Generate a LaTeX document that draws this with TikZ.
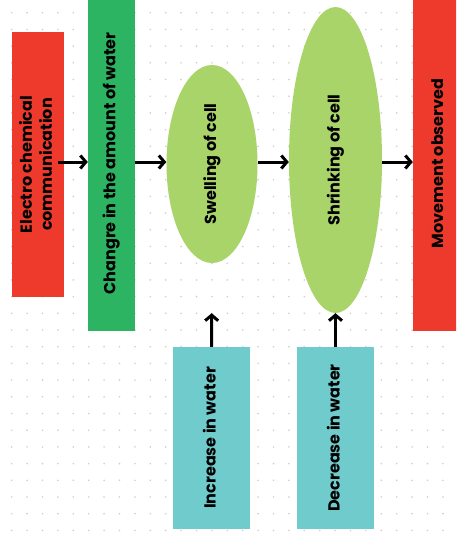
\documentclass[tikz,border=0pt]{standalone}
\usepackage{fontspec}
\setmainfont{Poppins}
\usetikzlibrary{arrows.meta,shapes.geometric}
\definecolor{signalred}{HTML}{EE3A2C}
\definecolor{watergreen}{HTML}{2DB463}
\definecolor{cellgreen}{HTML}{A9D46A}
\definecolor{inputcyan}{HTML}{70CCCC}
\definecolor{griddot}{HTML}{CFCFCF}
\tikzset{
  stage/.style={rectangle, inner sep=0pt, font=\bfseries\fontsize{16}{20}\selectfont},
  redstage/.style={stage, fill=signalred},
  waterstage/.style={stage, fill=watergreen},
  inputstage/.style={stage, fill=inputcyan},
  cell/.style={ellipse, inner sep=0pt, fill=cellgreen, font=\bfseries\fontsize{16}{20}\selectfont},
  flow/.style={-{Straight Barb[length=5.5pt,width=13pt]}, line width=3pt, black},
}
\newcommand{\uptext}[1]{\rotatebox{90}{\begin{tabular}{@{}c@{}}#1\end{tabular}}}

\begin{document}
\begin{tikzpicture}[x=1pt,y=-1pt]
  \useasboundingbox (0,0) rectangle (456,539);
  \clip (0,0) rectangle (456,539);
  \fill[white] (0,0) rectangle (456,539);
  \foreach \i in {0,...,28}
    \foreach \j in {0,...,31}
      \fill[griddot] (11.7+15.4*\i,12.7+16.7*\j) circle (0.9pt);

  \node[redstage, minimum width=52pt, minimum height=265pt] (elec) at (38,164.5)
    {\uptext{Electro chemical\\[0pt]communication}};
  \node[waterstage, minimum width=47pt, minimum height=335pt] (water) at (111.5,163.5)
    {\uptext{Changre in the amount of water}};
  \node[cell, minimum width=91pt, minimum height=198pt] (swell) at (212,164)
    {\uptext{Swelling of cell}};
  \node[cell, minimum width=93pt, minimum height=306pt] (shrink) at (335.5,160)
    {\uptext{Shrinking of cell}};
  \node[redstage, minimum width=52pt, minimum height=335pt] (move) at (439,163.5)
    {\uptext{Movement observed}};
  \node[inputstage, minimum width=77pt, minimum height=182pt] (inc) at (211.5,438)
    {\uptext{Increase in water}};
  \node[inputstage, minimum width=77pt, minimum height=182pt] (dec) at (335.5,438)
    {\uptext{Decrease in water}};

  \coordinate (mid) at (0,162);
  \draw[flow, shorten <=-6pt] (elec.east |- mid) -- (water.west |- mid);
  \draw[flow] (water.east |- mid) -- (swell.west |- mid);
  \draw[flow] (swell.east |- mid) -- (shrink.west |- mid);
  \draw[flow] (shrink.east |- mid) -- (move.west |- mid);
  \draw[flow, shorten >=50pt] (inc.north) -- (swell.south);
  \draw[flow] (dec.north) -- (shrink.south);
\end{tikzpicture}
\end{document}
